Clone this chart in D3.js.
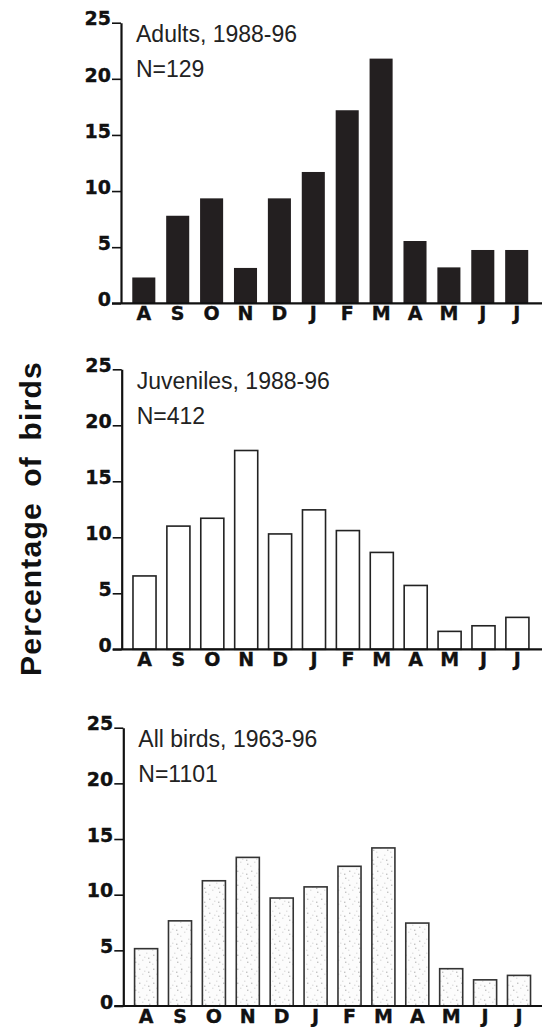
<!DOCTYPE html>
<html>
<head>
<meta charset="utf-8">
<script src="https://cdn.jsdelivr.net/npm/d3@7"></script>
<style>
  body { margin: 0; background: #fff; }
  svg { display: block; }
</style>
</head>
<body>
<div id="wrapper"></div>
<script>
// months Aug..Jul
const months = ["A", "S", "O", "N", "D", "J", "F", "M", "A", "M", "J", "J"]
const yTicks = [0, 5, 10, 15, 20, 25]

const adults = [2.3, 7.8, 9.35, 3.15, 9.35, 11.7, 17.2, 21.8, 5.55, 3.2, 4.75, 4.75]
const juveniles = [6.55, 11.0, 11.7, 17.75, 10.3, 12.45, 10.6, 8.65, 5.7, 1.6, 2.1, 2.85]
const allBirds = [5.15, 7.65, 11.25, 13.35, 9.7, 10.7, 12.55, 14.2, 7.45, 3.35, 2.35, 2.75]

const titles = ["Adults, 1988-96", "Juveniles, 1988-96", "All birds, 1963-96"]
const counts = ["N=129", "N=412", "N=1101"]

const width = 542, height = 1027

// panel placement (axis origin and height)
const panels = [
  {values: adults,    left: 121,   top: 22.7,  h: 280.6, fill: "#231f20", stroke: "#231f20"},
  {values: juveniles, left: 121.7, top: 369.3, h: 280,   fill: "#fff",    stroke: "#222"},
  {values: allBirds,  left: 123.3, top: 727.7, h: 278.3, fill: "url(#stipple)", stroke: "#333"}
]

var svg = d3.select("#wrapper").append("svg")
  .attr("width", width)
  .attr("height", height)

// stipple texture for the last panel
var pat = svg.append("defs").append("pattern")
  .attr("id", "stipple")
  .attr("width", 14).attr("height", 14)
  .attr("patternUnits", "userSpaceOnUse")
pat.append("rect").attr("width", 14).attr("height", 14).attr("fill", "#fcfcfc")
const dots = [[2, 3], [9, 1], [5, 8], [12, 10], [1, 12], [7, 5], [11, 6]]
pat.selectAll("rect.dot").data(dots).enter().append("rect")
  .attr("class", "dot")
  .attr("x", d => d[0]).attr("y", d => d[1])
  .attr("width", 1).attr("height", 1)
  .attr("fill", (d, i) => i % 3 ? "#c4c4c4" : "#8a8a8a")

var tickFont = sel => sel
  .style("font-family", "'DejaVu Sans', sans-serif")
  .style("font-weight", "bold")
  .style("font-size", "19px")
  .attr("fill", "#111")
  .attr("stroke", "#111")
  .attr("stroke-width", 0.35)

panels.forEach((p, k) => {
  var g = svg.append("g")
    .attr("transform", `translate(${p.left},${p.top})`)

  var y = d3.scaleLinear().domain([0, 25]).range([p.h, 0])
  var x = d3.scaleBand()
    .domain(d3.range(months.length))
    .range([4.5, 414])
    .paddingInner(0.32)
    .paddingOuter(0.2)

  // bars
  g.selectAll("rect.bar")
    .data(p.values)
    .enter().append("rect")
      .attr("class", "bar")
      .attr("x", (d, i) => x(i))
      .attr("y", d => y(d))
      .attr("width", x.bandwidth())
      .attr("height", d => p.h - y(d))
      .attr("fill", p.fill)
      .attr("stroke", p.stroke)
      .attr("stroke-width", k == 0 ? 0 : 1.6)

  // y axis
  var yAxis = g.append("g")
    .call(d3.axisLeft(y).tickValues(yTicks).tickSize(9).tickSizeOuter(0).tickPadding(1))
  yAxis.select(".domain").attr("stroke", "#111").attr("stroke-width", 2.2)
  yAxis.selectAll(".tick line").attr("stroke", "#111").attr("stroke-width", 1.6)
  yAxis.selectAll(".tick text").attr("dy", "0.12em").call(tickFont)

  // x axis: labels from the axis, baseline drawn to the right edge
  var xAxis = g.append("g")
    .attr("transform", `translate(0,${p.h})`)
    .call(d3.axisBottom(x).tickSize(0).tickPadding(3).tickFormat(i => months[i]))
  xAxis.select(".domain").remove()
  xAxis.selectAll(".tick text").call(tickFont)
  g.append("line")
    .attr("x1", -9).attr("x2", width - p.left)
    .attr("y1", p.h).attr("y2", p.h)
    .attr("stroke", "#111")
    .attr("stroke-width", 2.2)

  // panel captions
  g.append("text")
    .attr("x", 15).attr("y", 19.6)
    .style("font-family", "'Liberation Sans', Arial, sans-serif")
    .style("font-size", "23px")
    .attr("fill", "#222")
    .text(titles[k])
  g.append("text")
    .attr("x", 15).attr("y", 54.5)
    .style("font-family", "'Liberation Sans', Arial, sans-serif")
    .style("font-size", "23px")
    .attr("fill", "#222")
    .text(counts[k])
})

// shared y label
svg.append("text")
  .attr("transform", "translate(41,518.5) rotate(-90)")
  .attr("text-anchor", "middle")
  .style("font-family", "'Liberation Sans', Arial, sans-serif")
  .style("font-weight", "bold")
  .style("font-size", "30px")
  .style("letter-spacing", "1.2px")
  .style("word-spacing", "6px")
  .attr("fill", "#111")
  .text("Percentage of birds")
</script>
</body>
</html>
